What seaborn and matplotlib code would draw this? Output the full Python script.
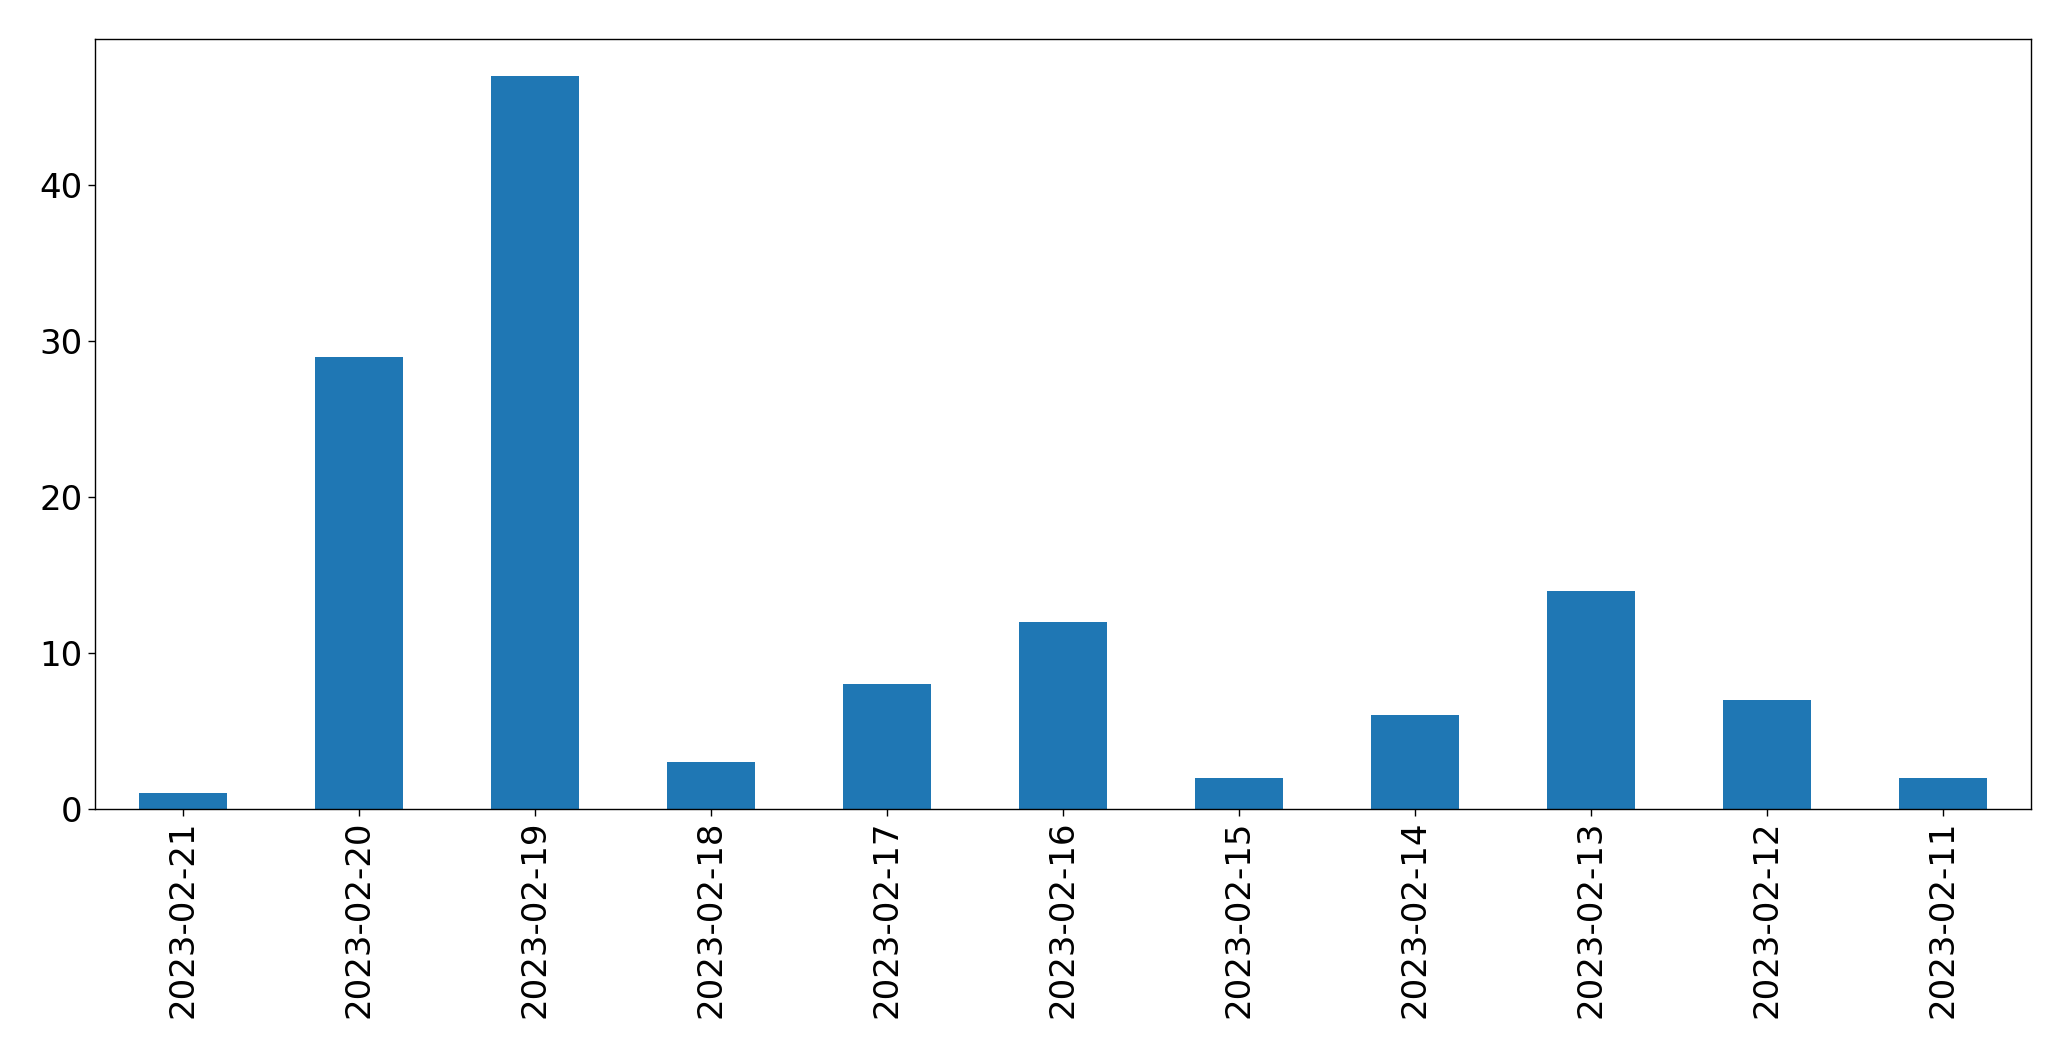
import matplotlib
matplotlib.use("Agg")
import matplotlib.pyplot as plt
import seaborn as sns
import pandas as pd

dates = ["2023-02-21", "2023-02-20", "2023-02-19", "2023-02-18", "2023-02-17",
         "2023-02-16", "2023-02-15", "2023-02-14", "2023-02-13", "2023-02-12",
         "2023-02-11"]
counts = [1, 29, 47, 3, 8, 12, 2, 6, 14, 7, 2]

df = pd.DataFrame({"date": dates, "count": counts})

sns.set_style("ticks")
plt.rcParams['font.family'] = ['DejaVu Sans']

fig, ax = plt.subplots(figsize=(20.71, 10.61), dpi=100)
fig.subplots_adjust(left=0.0457, right=0.9807, bottom=0.2375, top=0.963)

sns.barplot(data=df, x="date", y="count", order=dates, color="#1f77b4",
            saturation=1, width=0.5, linewidth=0, ax=ax)

ax.set_xlim(-0.5, len(dates) - 0.5)
ax.set_ylim(0, max(counts) * 1.05)
ax.set_xlabel("")
ax.set_ylabel("")
# plain black ticks and text, like the default matplotlib look
ax.tick_params(axis="both", labelsize=24.5, length=5, width=1,
               color="black", labelcolor="black")
ax.tick_params(axis="x", labelrotation=90)
for s in ax.spines.values():
    s.set_visible(True)
    s.set_linewidth(1)
    s.set_color("black")

fig.savefig("out.png", dpi=100)
